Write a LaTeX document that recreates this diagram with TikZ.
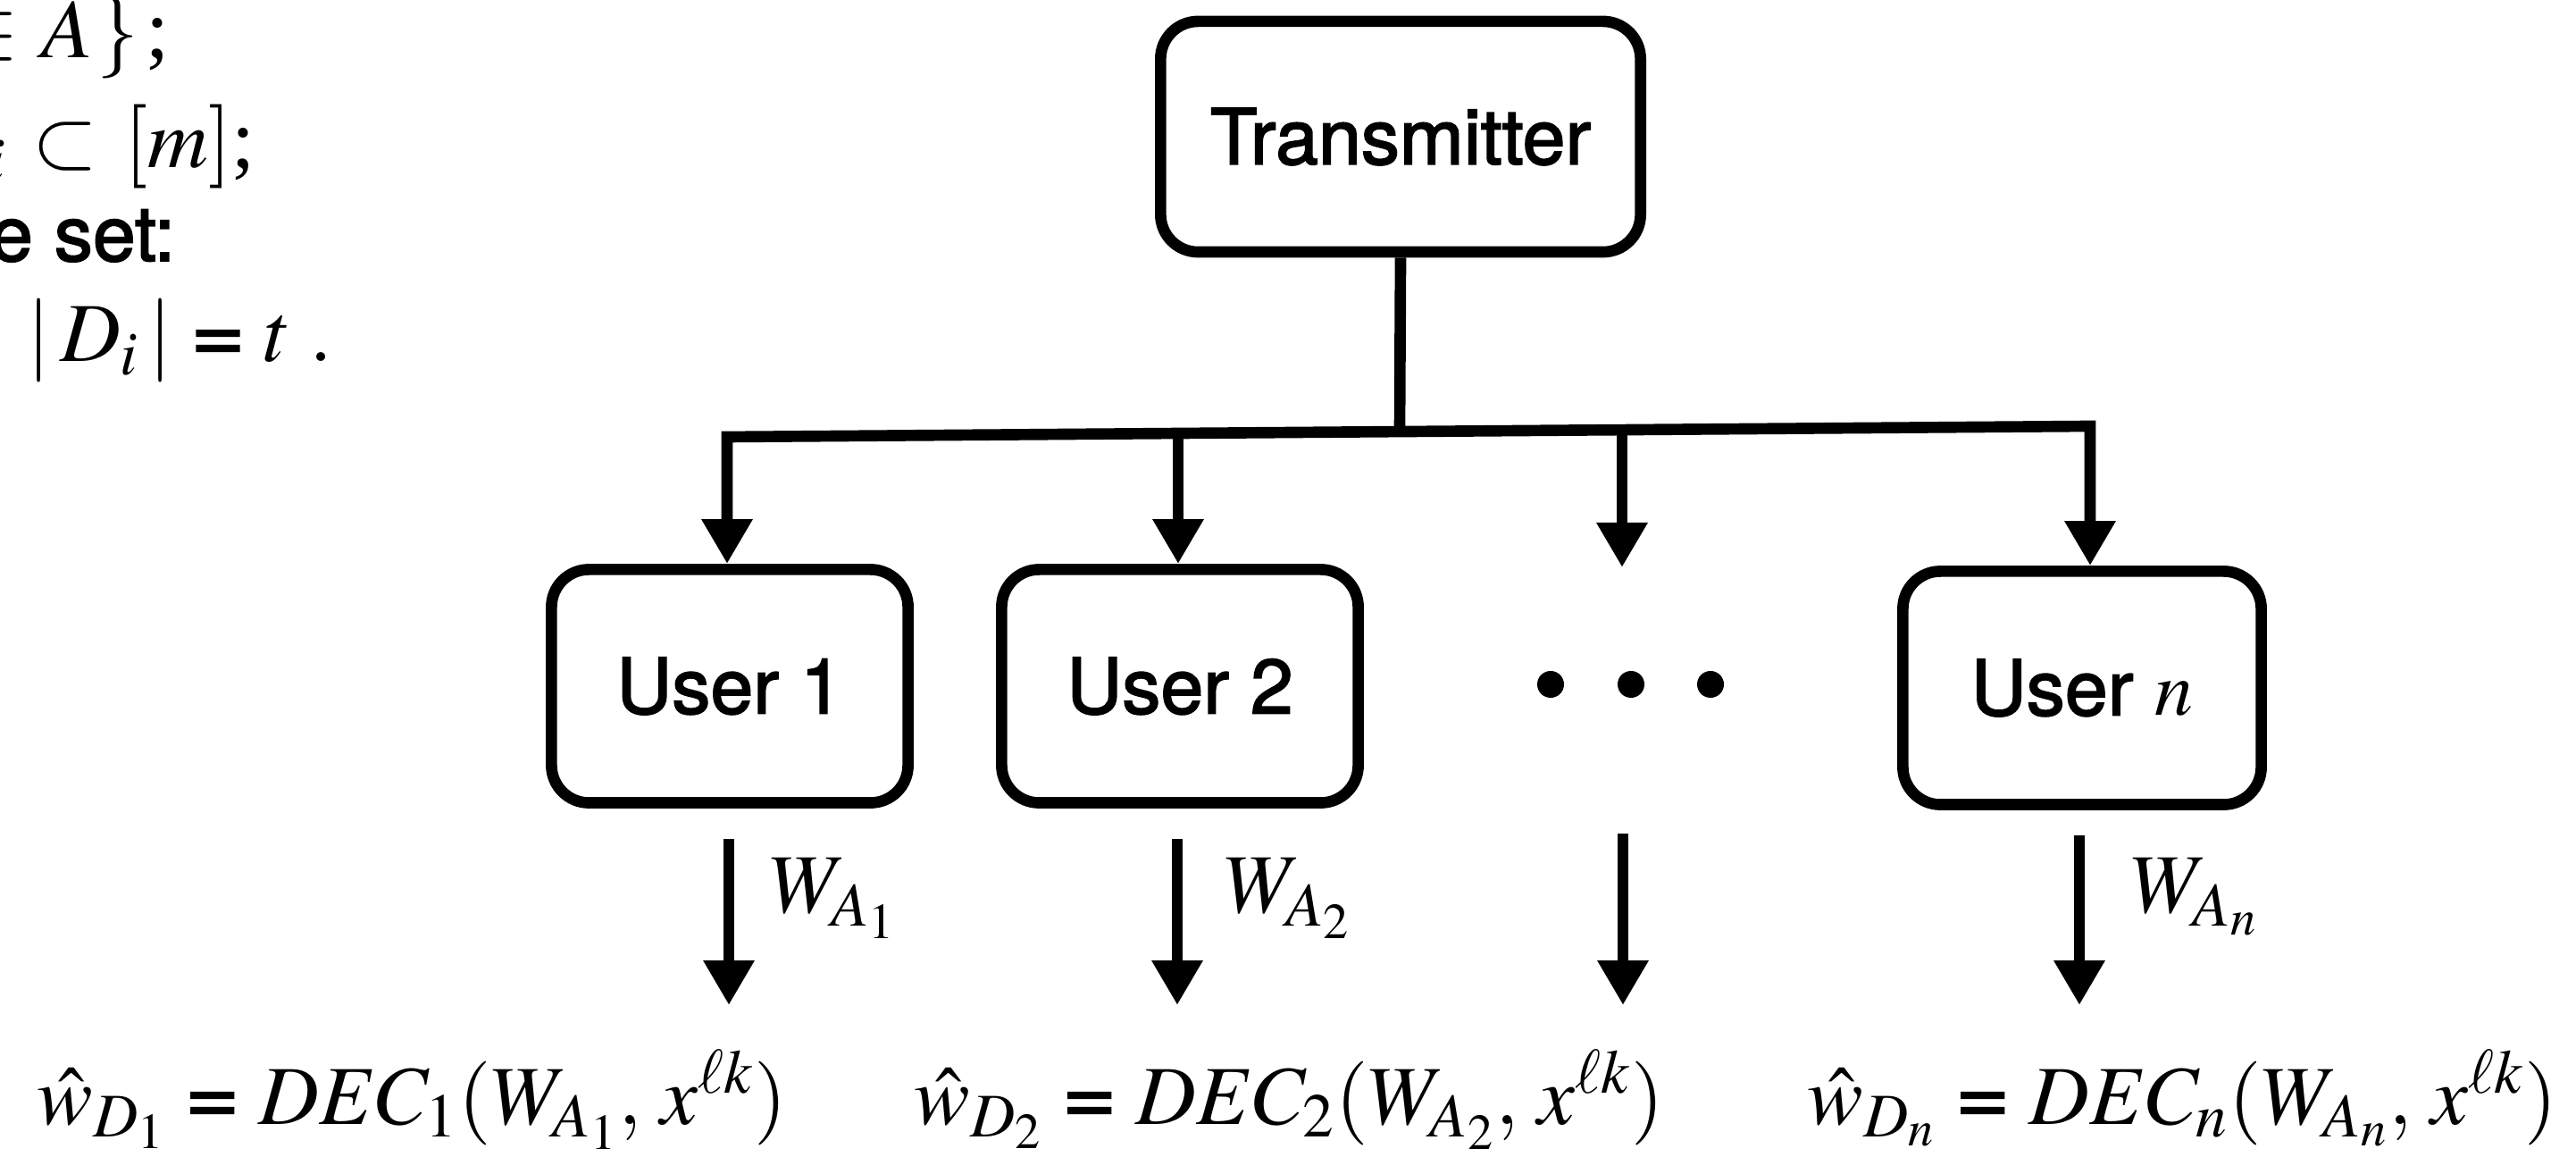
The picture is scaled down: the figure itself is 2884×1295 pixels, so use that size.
\documentclass[tikz,border=0pt]{standalone}
\usepackage{mathptmx}
\usepackage{fontspec}
\setmainfont{Liberation Serif}
\setsansfont{TeX Gyre Heros}[FakeBold=2]
\usetikzlibrary{arrows.meta,calc}
\newcommand{\sfeq}{\mathrel{\hbox{\sffamily\scalebox{1.12}[1]{=}}}}
\begin{document}
\begin{tikzpicture}[x=0.01cm, y=-0.01cm,
  ln/.style={line width=3.6pt},
  box/.style={draw, line width=3.6pt, rounded corners=0.42cm, inner sep=0pt,
    font=\sffamily\fontsize{24.5}{29}\selectfont},
  tip/.tip={Triangle[width=0.54cm,length=0.5cm]},
  arr/.style={line width=3.6pt, -tip},
  mth/.style={inner sep=0pt, font=\fontsize{26.7}{32}\selectfont},
  sf/.style={inner sep=0pt, font=\sffamily\fontsize{24.5}{29}\selectfont},
  dot/.style={circle, fill, inner sep=0pt, minimum size=0.3cm}]
\useasboundingbox (0,0) rectangle (2884,1295);

% top-left partial text
\node[mth, anchor=base east] (t1a) at (22,65) {$\in$};
\node[mth, anchor=base west] (t1b) at (46,65) {$A$\hspace{0.04cm}$\}$\hspace{0.08cm};};
\node[mth, anchor=base east] (t2a) at (8,188) {${}_i$};
\node[mth, anchor=base west] (t2b) at (36,188) {$\subset$\hspace{0.3cm}$[m]$;};
\node[sf, anchor=base east] (t3) at (197,292) {e set:};
\node[mth, anchor=base west] (t4) at (30,405) {$|\,D_i\,| \sfeq t\,\,.$};

% boxes
\node[box, minimum width=5.37cm, minimum height=2.58cm] (tx) at (1568,153) {Transmitter};
\node[box, minimum width=3.99cm, minimum height=2.61cm] (u1) at (817,768) {User 1};
\node[box, minimum width=3.99cm, minimum height=2.61cm] (u2) at (1321,768) {User 2};
\node[box, minimum width=4.01cm, minimum height=2.61cm] (un) at (2331,770) {User $n$};

% dots
\node[dot] (d1) at (1736,766) {};
\node[dot] (d2) at (1826,766) {};
\node[dot] (d3) at (1915,766) {};

% bus
\coordinate (busL) at (814,489);
\coordinate (busR) at (2340,477);
\coordinate (busM) at (1567,483);
\draw[ln] (tx.south) -- (busM);
\draw[ln, tip-tip, line join=miter] (u1.north -| busL) -- (busL) -- (busR) -- (un.north -| busR);
\coordinate (b2) at (1319,486);
\draw[arr] (b2) -- (b2 |- u2.north);
\coordinate (b3) at (1816,482);
\coordinate (e3) at (1816,635);
\draw[arr] (b3) -- (e3);

% lower arrows
\coordinate (o1) at (816,1125);
\coordinate (o2) at (1318,1125);
\coordinate (s3) at (1817,933);
\coordinate (o3) at (1817,1125);
\coordinate (on) at (2328,1125);
\draw[arr] ([yshift=-0.345cm]u1.south -| o1) -- (o1);
\draw[arr] ([yshift=-0.345cm]u2.south -| o2) -- (o2);
\draw[arr] (s3) -- (o3);
\draw[arr] ([yshift=-0.285cm]un.south -| on) -- (on);

% labels
\node[mth, anchor=base west] (w1) at (861,1022) {$W_{A_1}$};
\node[mth, anchor=base west] (w2) at (1370,1022) {$W_{A_2}$};
\node[mth, anchor=base west] (wn) at (2385,1022) {$W_{A_n}$};

% formulas
\node[mth, anchor=base west] (f1) at (41,1258) {$\hat{w}_{D_1} \sfeq DEC_1(W_{A_1},\, x^{\ell k})$};
\node[mth, anchor=base west] (f2) at (1023,1258) {$\hat{w}_{D_2} \sfeq DEC_2(W_{A_2},\, x^{\ell k})$};
\node[mth, anchor=base west] (fn) at (2023,1258) {$\hat{w}_{D_n} \sfeq DEC_n(W_{A_n},\, x^{\ell k})$};
\end{tikzpicture}
\end{document}
